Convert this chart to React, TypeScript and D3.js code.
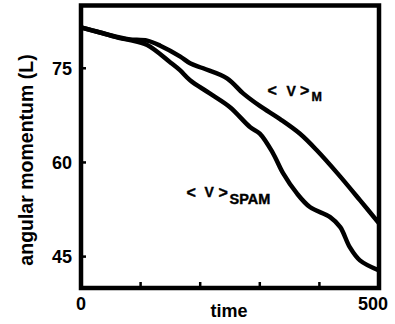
import React from "react";
import * as d3 from "d3";

const timeM = [0, 32, 65, 82, 111, 133, 166, 183, 205, 245, 272, 300, 334, 367, 396, 430, 468, 500];
const valuesM = [81.5, 80.7, 79.9, 79.6, 79.4, 78.6, 76.9, 75.8, 75.0, 73.4, 71.0, 69.0, 66.9, 64.6, 61.9, 58.3, 54.0, 50.3];
const timeSPAM = [0, 32, 65, 82, 111, 149, 166, 183, 216, 250, 284, 300, 322, 339, 362, 384, 418, 435, 451, 468, 500];
const valuesSPAM = [81.5, 80.7, 79.8, 79.5, 78.7, 76.0, 74.7, 73.1, 71.0, 68.8, 65.6, 64.6, 61.5, 58.3, 55.1, 52.9, 51.3, 49.7, 46.5, 44.4, 42.8];
const yTicks = [45, 60, 75];
const xTicks = [0, 100, 200, 300, 400, 500];
const xLabels = ["0", "500"];

export default function App() {
  const W = 395, H = 324;
  const L = 81, R = 379, T = 5.5, B = 288;
  const x = d3.scaleLinear().domain([0, 500]).range([L, R]);
  const y = d3.scaleLinear().domain([40, 85]).range([B, T]);
  const line = d3
    .line<[number, number]>()
    .x((d) => x(d[0]))
    .y((d) => y(d[1]))
    .curve(d3.curveCatmullRom.alpha(0.5));
  const mPts = timeM.map((t, i) => [t, valuesM[i]] as [number, number]);
  const sPts = timeSPAM.map((t, i) => [t, valuesSPAM[i]] as [number, number]);
  const font = "'Liberation Sans', Arial, Helvetica, sans-serif";
  return (
    <svg width={W} height={H} style={{ position: "absolute", left: 0, top: 0 }} fontFamily={font} fontWeight="bold">
      <rect x={0} y={0} width={W} height={H} fill="#fff" />
      <defs>
        <clipPath id="plot">
          <rect x={L} y={T} width={R - L} height={B - T} />
        </clipPath>
      </defs>
      <g clipPath="url(#plot)">
        <path d={line(mPts) || ""} fill="none" stroke="#000" strokeWidth={4.5} strokeLinejoin="round" />
        <path d={line(sPts) || ""} fill="none" stroke="#000" strokeWidth={4.5} strokeLinejoin="round" />
      </g>
      {yTicks.map((v) => (
        <g key={v}>
          <line x1={L} x2={L + 5} y1={y(v)} y2={y(v)} stroke="#000" strokeWidth={2.5} />
          <text x={72} y={y(v) + 6.5} fontSize={18} textAnchor="end">
            {v}
          </text>
        </g>
      ))}
      {xTicks.map((v) => (
        <line key={v} x1={x(v)} x2={x(v)} y1={B} y2={B - 6} stroke="#000" strokeWidth={2.5} />
      ))}
      <rect x={L} y={T} width={R - L} height={B - T} fill="none" stroke="#000" strokeWidth={4.5} />
      <text x={x(0)} y={310} fontSize={18} textAnchor="middle">{xLabels[0]}</text>
      <text x={388} y={310} fontSize={18} textAnchor="end">{xLabels[1]}</text>
      <text x={229} y={317} fontSize={18} textAnchor="middle">time</text>
      <text transform={`translate(33,160) rotate(-90)`} fontSize={19.5} textAnchor="middle">
        angular momentum (L)
      </text>
      <g fontSize={14} stroke="#000" strokeWidth={0.4}>
        <text x={267.5} y={96} fontSize={16}>{"<"}</text>
        <text x={286.5} y={95.5}>V</text>
        <text x={300} y={96} fontSize={16}>{">"}</text>
        <text x={311.5} y={101} fontSize={12.5}>M</text>
        <text x={186.5} y={197.5} fontSize={16}>{"<"}</text>
        <text x={204.5} y={197}>V</text>
        <text x={218.5} y={197.5} fontSize={16}>{">"}</text>
        <text x={229.5} y={204} fontSize={14.5}>SPAM</text>
      </g>
    </svg>
  );
}
